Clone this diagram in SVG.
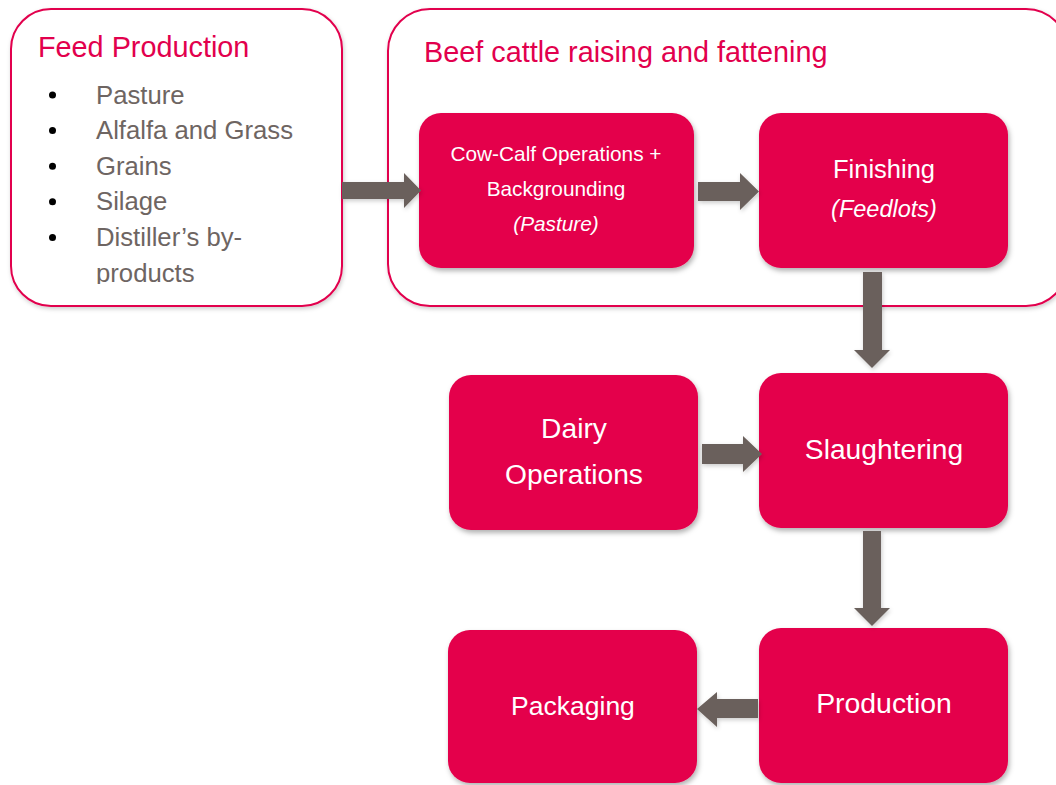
<svg xmlns="http://www.w3.org/2000/svg" width="1056" height="785" viewBox="0 0 1056 785">
  <defs>
    <filter id="sh" x="-10%" y="-10%" width="125%" height="130%">
      <feDropShadow dx="1.5" dy="3" stdDeviation="2.5" flood-color="#000" flood-opacity="0.3"/>
    </filter>
    <filter id="sh2" x="-10%" y="-10%" width="125%" height="130%">
      <feDropShadow dx="1" dy="2" stdDeviation="2" flood-color="#000" flood-opacity="0.2"/>
    </filter>
    <clipPath id="clipList">
      <rect x="0" y="0" width="400" height="284"/>
    </clipPath>
  </defs>
  <style>
    .outer { fill: #ffffff; stroke: #E2004D; stroke-width: 2; }
    .node { fill: #E4004B; }
    .title { font-family: "Liberation Sans", Arial, sans-serif; font-size: 28.8px; fill: #E2004D; }
    .item { font-family: "Liberation Sans", Arial, sans-serif; font-size: 25.7px; fill: #6E6562; }
    .lbl { font-family: "Liberation Sans", Arial, sans-serif; fill: #ffffff; text-anchor: middle; }
    .arrow { fill: #6B605B; }
  </style>
  <rect width="1056" height="785" fill="#ffffff"/>

  <g id="feed-production">
    <rect class="outer" x="11" y="9" width="331" height="297" rx="40" ry="40" filter="url(#sh2)"/>
    <text class="title" x="38" y="57">Feed Production</text>
    <g fill="#000">
      <circle cx="52.5" cy="95" r="3.5"/>
      <circle cx="52.5" cy="130.6" r="3.5"/>
      <circle cx="52.5" cy="166.2" r="3.5"/>
      <circle cx="52.5" cy="201.8" r="3.5"/>
      <circle cx="52.5" cy="237.4" r="3.5"/>
    </g>
    <g clip-path="url(#clipList)">
      <text class="item" x="96" y="103.5">Pasture</text>
      <text class="item" x="96" y="139.1">Alfalfa and Grass</text>
      <text class="item" x="96" y="174.7">Grains</text>
      <text class="item" x="96" y="210.3">Silage</text>
      <text class="item" x="96" y="245.9">Distiller’s by-</text>
      <text class="item" x="96" y="281.5">products</text>
    </g>
  </g>

  <g id="beef-cattle">
    <rect class="outer" x="388" y="9" width="680" height="297" rx="42" ry="42" filter="url(#sh2)"/>
    <text class="title" x="424" y="62">Beef cattle raising and fattening</text>
  </g>

  <g id="cow-calf">
    <rect class="node" x="419" y="113" width="275" height="155" rx="22" ry="22" filter="url(#sh)"/>
    <text class="lbl" x="556" y="161" font-size="20.8">Cow-Calf Operations +</text>
    <text class="lbl" x="556" y="196" font-size="20.8">Backgrounding</text>
    <text class="lbl" x="556" y="231" font-size="20.8" font-style="italic">(Pasture)</text>
  </g>

  <g id="finishing">
    <rect class="node" x="759" y="113" width="249" height="155" rx="22" ry="22" filter="url(#sh)"/>
    <text class="lbl" x="884" y="178" font-size="25.5">Finishing</text>
    <text class="lbl" x="884" y="217" font-size="23.5" font-style="italic">(Feedlots)</text>
  </g>

  <g id="dairy">
    <rect class="node" x="449" y="375" width="249" height="155" rx="22" ry="22" filter="url(#sh)"/>
    <text class="lbl" x="574" y="438" font-size="28.2">Dairy</text>
    <text class="lbl" x="574" y="484" font-size="28.2">Operations</text>
  </g>

  <g id="slaughtering">
    <rect class="node" x="759" y="373" width="249" height="155" rx="22" ry="22" filter="url(#sh)"/>
    <text class="lbl" x="884" y="459" font-size="28.2">Slaughtering</text>
  </g>

  <g id="production">
    <rect class="node" x="759" y="628" width="249" height="155" rx="22" ry="22" filter="url(#sh)"/>
    <text class="lbl" x="884" y="713" font-size="28.4">Production</text>
  </g>

  <g id="packaging">
    <rect class="node" x="448" y="630" width="249" height="153" rx="22" ry="22" filter="url(#sh)"/>
    <text class="lbl" x="573" y="715" font-size="26.5">Packaging</text>
  </g>

  <g id="connectors" filter="url(#sh2)">
    <polygon class="arrow" points="342,182 404,182 404,173 421,190.5 404,208 404,199 342,199"/>
    <polygon class="arrow" points="698,182 740,182 740,173 759,191.5 740,210 740,201 698,201"/>
    <polygon class="arrow" points="863,272 882,272 882,350 890,350 872,368 854,350 863,350"/>
    <polygon class="arrow" points="702,444 743,444 743,436 762,454 743,472 743,464 702,464"/>
    <polygon class="arrow" points="863,531 881,531 881,608 890,608 872,626 854,608 863,608"/>
    <polygon class="arrow" points="758,699 717,699 717,692 697,709 717,727 717,718 758,718"/>
  </g>
</svg>
